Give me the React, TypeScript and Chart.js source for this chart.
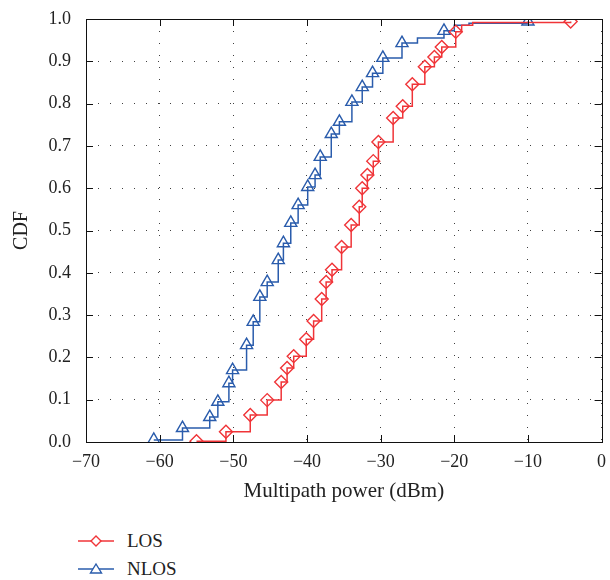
import React, { useEffect, useRef } from "react";
import { Chart, registerables } from "chart.js";

Chart.register(...registerables);

const xTicks = [-70, -60, -50, -40, -30, -20, -10, 0];
const yTicks = [0, 0.1, 0.2, 0.3, 0.4, 0.5, 0.6, 0.7, 0.8, 0.9, 1.0];
const xTitle = "Multipath power (dBm)";
const yTitle = "CDF";

const losLabel = "LOS";
const losX = [-55.0, -51.0, -47.7, -45.4, -43.5, -42.7, -41.8, -40.1, -39.1, -38.0, -37.4, -36.6, -35.3, -34.0, -32.9, -32.5, -31.8, -31.0, -30.3, -28.3, -27.0, -25.7, -24.0, -22.7, -21.7, -19.8, -19.0, -17.5, -4.2];
const losY = [0.002, 0.024, 0.064, 0.099, 0.142, 0.175, 0.203, 0.243, 0.286, 0.338, 0.378, 0.407, 0.461, 0.513, 0.556, 0.600, 0.631, 0.664, 0.709, 0.766, 0.794, 0.846, 0.887, 0.910, 0.934, 0.970, 0.985, 0.992, 0.994];
const losMarker = [1, 1, 1, 1, 1, 1, 1, 1, 1, 1, 1, 1, 1, 1, 1, 1, 1, 1, 1, 1, 1, 1, 1, 1, 1, 1, 0, 0, 1];

const nlosLabel = "NLOS";
const nlosX = [-60.8, -56.9, -53.2, -52.1, -50.6, -50.1, -48.2, -47.3, -46.4, -45.4, -43.9, -43.2, -42.2, -41.2, -39.9, -38.9, -38.2, -36.7, -35.6, -33.9, -32.5, -31.1, -29.7, -27.1, -25.0, -21.4, -20.0, -18.0, -10.0];
const nlosY = [0.005, 0.033, 0.059, 0.095, 0.139, 0.170, 0.229, 0.284, 0.343, 0.378, 0.430, 0.470, 0.518, 0.560, 0.603, 0.631, 0.674, 0.728, 0.757, 0.804, 0.839, 0.872, 0.908, 0.943, 0.955, 0.972, 0.985, 0.990, 0.994];
const nlosMarker = [1, 1, 1, 1, 1, 1, 1, 1, 1, 1, 1, 1, 1, 1, 1, 1, 1, 1, 1, 1, 1, 1, 1, 1, 0, 1, 0, 0, 1];

const RED = "rgb(240,52,56)";
const BLUE = "rgb(42,92,172)";
const FONT = "'Liberation Serif', 'Times New Roman', serif";

const fmtMinus = (v: number) => (v < 0 ? "\u2212" + Math.abs(v) : String(v));

const framePlugin = {
  id: "frame",
  afterDatasetsDraw(chart: any) {
    const { ctx, chartArea, scales } = chart;
    const { left, right, top, bottom } = chartArea;
    const len = 7;
    ctx.save();
    ctx.strokeStyle = "#111";
    ctx.lineWidth = 1;
    ctx.setLineDash([]);
    ctx.beginPath();
    for (const v of xTicks) {
      const px = Math.round(scales.x.getPixelForValue(v)) + 0.5;
      ctx.moveTo(px, bottom);
      ctx.lineTo(px, bottom - len);
      ctx.moveTo(px, top);
      ctx.lineTo(px, top + len);
    }
    for (const v of yTicks) {
      const py = Math.round(scales.y.getPixelForValue(v)) + 0.5;
      ctx.moveTo(left, py);
      ctx.lineTo(left + len, py);
      ctx.moveTo(right, py);
      ctx.lineTo(right - len, py);
    }
    ctx.stroke();
    ctx.strokeRect(Math.round(left) + 0.5, Math.round(top) + 0.5, Math.round(right - left), Math.round(bottom - top));
    ctx.restore();
  },
};

function makeDataset(label: string, xs: number[], ys: number[], marks: number[], color: string, style: string, r: number) {
  return {
    label,
    data: xs.map((x, i) => ({ x, y: ys[i] })),
    borderColor: color,
    borderWidth: 1.5,
    stepped: true as any,
    pointStyle: style as any,
    pointRadius: marks.map((m) => (m ? r : 0)),
    pointBorderColor: color,
    pointBackgroundColor: "rgba(0,0,0,0)",
    pointBorderWidth: 1.4,
    pointHoverRadius: 0,
    fill: false,
  };
}

export default function App() {
  const ref = useRef<HTMLCanvasElement | null>(null);

  useEffect(() => {
    if (!ref.current) return;
    const chart = new Chart(ref.current, {
      type: "line",
      data: {
        datasets: [
          makeDataset(losLabel, losX, losY, losMarker, RED, "rectRot", 6.5),
          makeDataset(nlosLabel, nlosX, nlosY, nlosMarker, BLUE, "triangle", 7),
        ],
      },
      options: {
        animation: false,
        responsive: false,
        devicePixelRatio: 1,
        layout: { padding: { top: 19, right: 7, left: 0, bottom: 0 } },
        plugins: { legend: { display: false }, tooltip: { enabled: false } },
        scales: {
          x: {
            type: "linear",
            min: -70,
            max: 0,
            afterFit: (s: any) => {
              s.height = 68;
              s.paddingLeft = 0;
              s.paddingRight = 0;
            },
            afterBuildTicks: (s: any) => {
              s.ticks = xTicks.map((v) => ({ value: v }));
            },
            ticks: {
              padding: 9,
              color: "#222",
              font: { family: FONT, size: 18 },
              callback: (v: any) => fmtMinus(Number(v)),
              maxRotation: 0,
            },
            grid: { color: "rgba(0,0,0,0.75)", lineWidth: 1, drawTicks: false },
            border: { display: false, dash: [1, 11] },
            title: {
              display: true,
              text: xTitle,
              color: "#222",
              font: { family: FONT, size: 21 },
              padding: { top: 0, bottom: 6 },
            },
          },
          y: {
            type: "linear",
            min: 0,
            max: 1,
            afterFit: (s: any) => {
              s.width = 86;
              s.paddingTop = 0;
              s.paddingBottom = 0;
            },
            afterBuildTicks: (s: any) => {
              s.ticks = yTicks.map((v) => ({ value: v }));
            },
            ticks: {
              padding: 15,
              color: "#222",
              font: { family: FONT, size: 18 },
              callback: (v: any) => Number(v).toFixed(1),
            },
            grid: { color: "rgba(0,0,0,0.75)", lineWidth: 1, drawTicks: false },
            border: { display: false, dash: [1, 11] },
            title: {
              display: true,
              text: yTitle,
              color: "#222",
              font: { family: FONT, size: 20 },
              padding: { top: 10, bottom: 0 },
            },
          },
        },
      },
      plugins: [framePlugin],
    });
    return () => chart.destroy();
  }, []);

  const legendRow = (label: string, color: string, kind: "diamond" | "triangle", top: number) => (
    <div
      style={{
        position: "absolute",
        left: 78,
        top,
        height: 20,
        display: "flex",
        alignItems: "center",
      }}
    >
      <svg width={36} height={16} style={{ display: "block" }}>
        <line x1={0} y1={8} x2={36} y2={8} stroke={color} strokeWidth={1.5} />
        {kind === "diamond" ? (
          <polygon points="18,3 23,8 18,13 13,8" fill="white" stroke={color} strokeWidth={1.4} />
        ) : (
          <polygon points="18,3 23.5,12 12.5,12" fill="white" stroke={color} strokeWidth={1.4} />
        )}
      </svg>
      <span
        style={{
          marginLeft: 13,
          fontFamily: FONT,
          fontSize: 19,
          color: "#222",
          lineHeight: "20px",
        }}
      >
        {label}
      </span>
    </div>
  );

  return (
    <div style={{ position: "absolute", left: 0, top: 0, width: 610, height: 580, background: "#fff" }}>
      <canvas ref={ref} width={610} height={510} style={{ display: "block", width: 610, height: 510 }} />
      {legendRow(losLabel, RED, "diamond", 531)}
      {legendRow(nlosLabel, BLUE, "triangle", 559)}
    </div>
  );
}
